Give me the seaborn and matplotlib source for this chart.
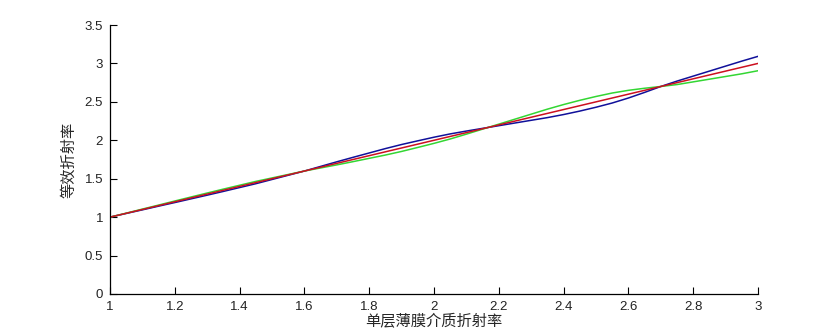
import numpy as np
import pandas as pd
import matplotlib
matplotlib.use("Agg")
import matplotlib.pyplot as plt
import seaborn as sns

x_vals = [1.00, 1.05, 1.10, 1.15, 1.20, 1.25, 1.30, 1.35, 1.40, 1.45, 1.50,
          1.55, 1.60, 1.65, 1.70, 1.75, 1.80, 1.85, 1.90, 1.95, 2.00,
          2.05, 2.10, 2.15, 2.20, 2.25, 2.30, 2.35, 2.40, 2.45, 2.50,
          2.55, 2.60, 2.65, 2.70, 2.75, 2.80, 2.85, 2.90, 2.95, 3.00]

blue_vals = [1.000, 1.048, 1.095, 1.143, 1.190, 1.238, 1.286, 1.335, 1.385, 1.435, 1.490,
             1.545, 1.600, 1.660, 1.720, 1.778, 1.835, 1.892, 1.945, 1.993, 2.040,
             2.083, 2.120, 2.155, 2.190, 2.225, 2.260, 2.295, 2.335, 2.380, 2.430,
             2.485, 2.550, 2.623, 2.700, 2.770, 2.835, 2.900, 2.965, 3.030, 3.092]

green_vals = [1.000, 1.052, 1.105, 1.157, 1.210, 1.262, 1.314, 1.365, 1.415, 1.465, 1.510,
              1.555, 1.600, 1.640, 1.680, 1.722, 1.765, 1.808, 1.855, 1.907, 1.960,
              2.017, 2.080, 2.145, 2.210, 2.275, 2.340, 2.405, 2.465, 2.520, 2.570,
              2.615, 2.650, 2.677, 2.700, 2.725, 2.760, 2.795, 2.830, 2.865, 2.905]

red_vals = [1.00, 1.05, 1.10, 1.15, 1.20, 1.25, 1.30, 1.35, 1.40, 1.45, 1.50,
            1.55, 1.60, 1.65, 1.70, 1.75, 1.80, 1.85, 1.90, 1.95, 2.00,
            2.05, 2.10, 2.15, 2.20, 2.25, 2.30, 2.35, 2.40, 2.45, 2.50,
            2.55, 2.60, 2.65, 2.70, 2.75, 2.80, 2.85, 2.90, 2.95, 3.00]

x_ticks = [1, 1.2, 1.4, 1.6, 1.8, 2, 2.2, 2.4, 2.6, 2.8, 3]
x_tick_labels = ["1", "1.2", "1.4", "1.6", "1.8", "2", "2.2", "2.4", "2.6", "2.8", "3"]
y_ticks = [0, 0.5, 1, 1.5, 2, 2.5, 3, 3.5]
y_tick_labels = ["0", "0.5", "1", "1.5", "2", "2.5", "3", "3.5"]

x_label = "单层薄膜介质折射率"
y_label = "等效折射率"

series_names = ["blue", "green", "red"]
series_colors = {"blue": "#10109a", "green": "#33d633", "red": "#cc1020"}

df = pd.concat([
    pd.DataFrame({"x": x_vals, "y": blue_vals, "s": "blue"}),
    pd.DataFrame({"x": x_vals, "y": green_vals, "s": "green"}),
    pd.DataFrame({"x": x_vals, "y": red_vals, "s": "red"}),
], ignore_index=True)

sns.set_style("ticks")
plt.rcParams['font.family'] = ['Liberation Sans', 'Noto Sans CJK SC', 'DejaVu Sans']

fig = plt.figure(figsize=(8.38, 3.32), dpi=100)
ax = fig.add_axes([110 / 838, 38 / 332, 648 / 838, 269 / 332])

sns.lineplot(data=df, x="x", y="y", hue="s", hue_order=series_names,
             palette=series_colors, linewidth=1.1, legend=False, ax=ax,
             estimator=None, sort=False)

ax.set_xlim(1, 3)
ax.set_ylim(0, 3.5)
ax.set_xticks(x_ticks)
ax.set_xticklabels(x_tick_labels)
ax.set_yticks(y_ticks)
ax.set_yticklabels(y_tick_labels)
ax.tick_params(direction="in", length=5, width=0.8, labelsize=9.5, colors="black", pad=5)
for lab in ax.get_xticklabels() + ax.get_yticklabels():
    lab.set_color("#222222")
for side in ["top", "right"]:
    ax.spines[side].set_visible(False)
for side in ["left", "bottom"]:
    ax.spines[side].set_linewidth(0.9)
    ax.spines[side].set_color("black")

ax.set_xlabel(x_label, fontsize=11, family=['Noto Sans CJK SC', 'DejaVu Sans'], labelpad=0)
ax.set_ylabel(y_label, fontsize=11, family=['Noto Sans CJK SC', 'DejaVu Sans'], labelpad=5)

fig.savefig("out.png", dpi=100)
